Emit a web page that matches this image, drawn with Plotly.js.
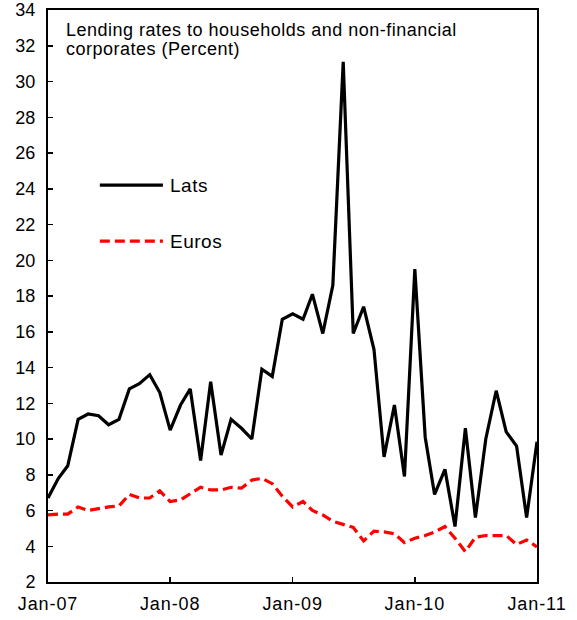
<!DOCTYPE html>
<html>
<head>
<meta charset="utf-8">
<script src="https://cdn.plot.ly/plotly-3.0.1.min.js"></script>
<style>
html,body{margin:0;padding:0;background:#fff;}
#chart{width:577px;height:620px;}
.xtick text{letter-spacing:0.9px;}
.annotation-text{letter-spacing:0.5px;}
</style>
</head>
<body>
<div id="chart"></div>
<script>
var months = [
 "2007-01-01","2007-02-01","2007-03-01","2007-04-01","2007-05-01","2007-06-01","2007-07-01","2007-08-01","2007-09-01","2007-10-01","2007-11-01","2007-12-01",
 "2008-01-01","2008-02-01","2008-03-01","2008-04-01","2008-05-01","2008-06-01","2008-07-01","2008-08-01","2008-09-01","2008-10-01","2008-11-01","2008-12-01",
 "2009-01-01","2009-02-01","2009-03-01","2009-04-01","2009-05-01","2009-06-01","2009-07-01","2009-08-01","2009-09-01","2009-10-01","2009-11-01","2009-12-01",
 "2010-01-01","2010-02-01","2010-03-01","2010-04-01","2010-05-01","2010-06-01","2010-07-01","2010-08-01","2010-09-01","2010-10-01","2010-11-01","2010-12-01",
 "2011-01-01"
];
var lats = [
 6.7, 7.8, 8.5, 11.1, 11.4, 11.3, 10.8, 11.1, 12.8, 13.1, 13.6, 12.6,
 10.5, 11.9, 12.8, 8.8, 13.2, 9.1, 11.1, 10.6, 10.0, 13.9, 13.5, 16.7,
 17.0, 16.7, 18.1, 15.9, 18.6, 31.1, 15.9, 17.4, 15.0, 9.0, 11.9, 7.9,
 19.5, 10.1, 6.9, 8.3, 5.1, 10.6, 5.6, 10.0, 12.7, 10.4, 9.6, 5.6,
 9.85
];
var euros = [
 5.75, 5.8, 5.8, 6.2, 6.0, 6.1, 6.2, 6.25, 6.9, 6.7, 6.7, 7.1,
 6.5, 6.6, 6.95, 7.3, 7.15, 7.15, 7.3, 7.25, 7.7, 7.8, 7.5, 6.8,
 6.2, 6.5, 6.0, 5.75, 5.4, 5.2, 5.05, 4.3, 4.85, 4.8, 4.7, 4.2,
 4.45, 4.6, 4.8, 5.1, 4.45, 3.7, 4.5, 4.6, 4.6, 4.6, 4.1, 4.35,
 3.97
];
var seriesNames = ["Lats", "Euros"];
var tickVals = ["2007-01-01","2008-01-01","2009-01-01","2010-01-01","2011-01-01"];
var tickText = ["Jan-07","Jan-08","Jan-09","Jan-10","Jan-11"];
var titleLines = ["Lending rates to households and non-financial", "corporates (Percent)"];

var font = "Liberation Sans, Arial, sans-serif";
var styles = [
 {color: "#000000", width: 3.2, dash: "solid"},
 {color: "#FF0000", width: 3.2, dash: "10px,5px"}
];
var traces = [
 {x: months, y: lats, name: seriesNames[0], type: "scatter", mode: "lines", line: styles[0], showlegend: false},
 {x: months, y: euros, name: seriesNames[1], type: "scatter", mode: "lines", line: styles[1], showlegend: false}
];

// legend drawn inside the plot (paper coordinates)
var legendY = [0.694, 0.596];
var legX0 = 0.106, legX1 = 0.235, legTextX = 0.245;
var shapes = [], annotations = [];
for (var i = 0; i < seriesNames.length; i++) {
 shapes.push({type: "line", xref: "paper", yref: "paper", x0: legX0, x1: legX1, y0: legendY[i], y1: legendY[i],
  line: {color: styles[i].color, width: 3.2, dash: styles[i].dash}});
 annotations.push({xref: "paper", yref: "paper", x: legTextX, y: legendY[i], xanchor: "left", yanchor: "middle",
  showarrow: false, text: seriesNames[i], font: {family: font, size: 19, color: "#000"}});
}
var titleY = [0.965, 0.932];
for (var j = 0; j < titleLines.length; j++) {
 annotations.push({xref: "paper", yref: "paper", x: 0.033, y: titleY[j], xanchor: "left", yanchor: "middle",
  align: "left", showarrow: false, text: titleLines[j], font: {family: font, size: 18, color: "#000"}});
}

var layout = {
 width: 577, height: 620,
 margin: {l: 48, r: 40, t: 10, b: 38},
 paper_bgcolor: "#ffffff", plot_bgcolor: "#ffffff",
 font: {family: font, size: 18, color: "#000000"},
 showlegend: false,
 xaxis: {type: "date", range: ["2007-01-01", "2011-01-01"], tickvals: tickVals, ticktext: tickText,
  ticks: "inside", ticklen: 5, tickwidth: 1.5, tickcolor: "#000", showline: true, linecolor: "#000",
  linewidth: 2, mirror: true, showgrid: false, zeroline: false, ticklabelstandoff: 4,
  tickfont: {family: font, size: 18, color: "#000"}},
 yaxis: {range: [2, 34], dtick: 2, tick0: 2, ticks: "inside", ticklen: 5, tickwidth: 1.5, tickcolor: "#000",
  showline: true, linecolor: "#000", linewidth: 2, mirror: true, showgrid: false, zeroline: false,
  ticklabelstandoff: 7,
  tickfont: {family: font, size: 18, color: "#000"}},
 shapes: shapes,
 annotations: annotations
};
Plotly.newPlot("chart", traces, layout, {displayModeBar: false, staticPlot: true});
</script>
</body>
</html>
